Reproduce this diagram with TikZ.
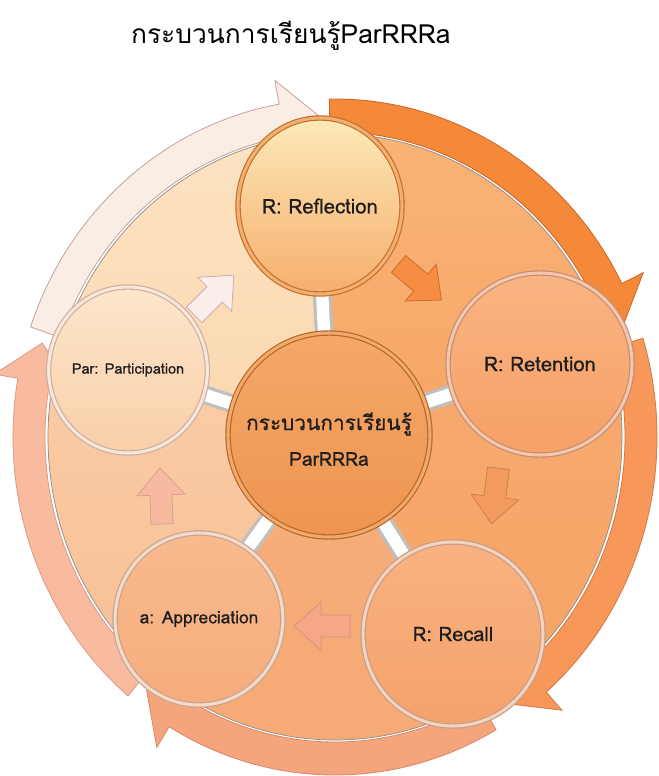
\documentclass[tikz,border=0pt]{standalone}
\usepackage{fontspec}
\newfontfamily\thaifont[Script=Thai]{Loma}
\newfontfamily\labfont[Script=Thai,FakeBold=0.6]{Loma}
\usetikzlibrary{shapes.geometric}
\definecolor{txt}{HTML}{1E1E1E}
\definecolor{s1a}{HTML}{FEF0DA}\definecolor{s1b}{HTML}{FBD8B0}
\definecolor{s2a}{HTML}{FAC48E}\definecolor{s2b}{HTML}{F7A666}
\definecolor{s3a}{HTML}{F8AC72}\definecolor{s3b}{HTML}{F59E5E}
\definecolor{s4a}{HTML}{F6AE7A}\definecolor{s4b}{HTML}{F5A46E}
\definecolor{s5a}{HTML}{FAD2AE}\definecolor{s5b}{HTML}{F6B282}
\definecolor{r1}{HTML}{FAEDE6}\definecolor{r1d}{HTML}{C4A49C}
\definecolor{r2}{HTML}{F5893A}\definecolor{r2d}{HTML}{CC6628}
\definecolor{r3}{HTML}{F7975A}\definecolor{r3d}{HTML}{D47A44}
\definecolor{r4}{HTML}{F5A57C}\definecolor{r4d}{HTML}{D8886A}
\definecolor{r5}{HTML}{F8BBA0}\definecolor{r5d}{HTML}{D89C88}
\definecolor{b1}{HTML}{FBEEEA}\definecolor{b1d}{HTML}{C9AFAF}
\definecolor{b2}{HTML}{F58D42}\definecolor{b2d}{HTML}{CE6B2C}
\definecolor{b3}{HTML}{F39A5E}\definecolor{b3d}{HTML}{D07E50}
\definecolor{b4}{HTML}{F5A788}\definecolor{b4d}{HTML}{D8927A}
\definecolor{b5}{HTML}{F7B9A0}\definecolor{b5d}{HTML}{D8A090}
% circles
\definecolor{c1a}{HTML}{FDEAB8}\definecolor{c1b}{HTML}{F6AE6E}\definecolor{c1d}{HTML}{C2702F}\definecolor{c1m}{HTML}{F2B070}
\definecolor{c2a}{HTML}{F9B482}\definecolor{c2b}{HTML}{F7A066}\definecolor{c2d}{HTML}{C48C74}\definecolor{c2m}{HTML}{F4C6AA}
\definecolor{c3a}{HTML}{F8B280}\definecolor{c3b}{HTML}{F5A26C}\definecolor{c3d}{HTML}{C49C8C}\definecolor{c3m}{HTML}{F5D2BC}
\definecolor{c4a}{HTML}{F8BA8E}\definecolor{c4b}{HTML}{F6AC7C}\definecolor{c4d}{HTML}{C4A494}\definecolor{c4m}{HTML}{F6DAC6}
\definecolor{c5a}{HTML}{FCE6CC}\definecolor{c5b}{HTML}{F9CFA8}\definecolor{c5d}{HTML}{C8B0A4}\definecolor{c5m}{HTML}{F8E6D8}
\definecolor{c6a}{HTML}{F5A868}\definecolor{c6b}{HTML}{EE9450}\definecolor{c6d}{HTML}{B5662C}\definecolor{c6m}{HTML}{F0AA6A}
\newcommand\ringarrow[5]{%
  \pgfmathsetmacro\rtA{-1*(#3)}%
  \pgfmathsetmacro\rtB{-1*(#4)}%
  \filldraw[fill=#1, draw=#2, line width=0.7pt, line join=miter]
    ({335+322*cos(#3)},{437-338*sin(#3)})
    arc[start angle=\rtA, end angle=\rtB, x radius=322, y radius=338]
    -- ({335+346*cos(#4)},{437-362*sin(#4)})
    -- ({335+306*cos(#5)},{437-321.5*sin(#5)})
    -- ({335+268*cos(#4)},{437-283*sin(#4)})
    -- ({335+290*cos(#4)},{437-305*sin(#4)})
    arc[start angle=\rtB, end angle=\rtA, x radius=290, y radius=305]
    -- cycle;}
\newcommand\sector[4]{%
  \shade[top color=#1, bottom color=#2]
    (329,435) -- ({329+700*cos(#3)},{435-700*sin(#3)})
    -- ({329+700*cos((#3+#4)/2)},{435-700*sin((#3+#4)/2)})
    -- ({329+700*cos(#4)},{435-700*sin(#4)}) -- cycle;}
\tikzset{
  barrow/.pic={\path[pic actions] (-28,-11) -- (1,-11) -- (1,-24) -- (28,0)
     -- (1,24) -- (1,11) -- (-28,11) -- cycle;},
  bubble/.style={ellipse, inner sep=0pt, text=txt, font=\labfont,
     line width=1pt, double distance=2.6pt, align=center},
  spokeout/.style={line width=16pt, draw=black!25},
  spokein/.style={line width=10.5pt, draw=white},
}
\begin{document}
\begin{tikzpicture}[x=0.03cm,y=-0.03cm]
\useasboundingbox (0,0) rectangle (658,776);
% title
\node[anchor=base west, text=black, font=\thaifont\fontsize{22.5}{26}\selectfont] (title) at (127,43) {กระบวนการเรียนรู้ParRRRa};
% background disk sectors
\begin{scope}
  \clip (335,437) ellipse[x radius=287, y radius=303];
  \sector{s1a}{s1b}{162.1}{92.7}
  \sector{s2a}{s2b}{92.7}{18.6}
  \sector{s3a}{s3b}{18.6}{-58.1}
  \sector{s4a}{s4b}{-58.1}{-125.7}
  \sector{s5a}{s5b}{234.3}{162.1}
\end{scope}
\draw[draw=black!45, line width=0.6pt] (335,437) ellipse[x radius=287, y radius=303];
% outer ring arrows
\ringarrow{r1}{r1d}{161}{100}{93}
\ringarrow{r5}{r5d}{230}{170}{163}
\ringarrow{r4}{r4d}{-60}{-121}{-128}
\ringarrow{r3}{r3d}{17}{-49}{-56}
\ringarrow{r2}{r2d}{91}{27}{20}
% block arrows
\pic[fill=b1, draw=b1d, line width=0.7pt, rotate=45] at (214,295) {barrow};
\pic[fill=b2, draw=b2d, line width=0.7pt, rotate=-40] at (420,282) {barrow};
\pic[fill=b3, draw=b3d, line width=0.7pt, rotate=-97] at (495,496) {barrow};
\pic[fill=b4, draw=b4d, line width=0.7pt, rotate=180] at (322,626) {barrow};
\pic[fill=b5, draw=b5d, line width=0.7pt, rotate=92] at (161,496) {barrow};
% spokes
\coordinate (pc) at (329,435);
\foreach \p in {(318,206),(540,364),(453,634),(197,619),(128,370)}{
  \draw[spokeout] (pc) -- \p;
  \draw[spokein] (pc) -- \p;
}
% circles
\node[bubble, minimum width=4.92cm, minimum height=5.28cm,
  top color=c1a, bottom color=c1b, draw=c1d, double=c1m,
  font=\labfont\fontsize{17.3}{20}\selectfont] (refl) at (320,206) {R: Reflection};
\node[bubble, minimum width=5.52cm, minimum height=5.46cm,
  top color=c2a, bottom color=c2b, draw=c2d, double=c2m,
  font=\labfont\fontsize{17.2}{20}\selectfont] (ret) at (540,364) {R: Retention};
\node[bubble, minimum width=5.4cm, minimum height=5.52cm,
  top color=c3a, bottom color=c3b, draw=c3d, double=c3m,
  font=\labfont\fontsize{17}{20}\selectfont] (rec) at (453,634) {R: Recall};
\node[bubble, minimum width=4.8cm, minimum height=5.16cm,
  top color=c4a, bottom color=c4b, draw=c4d, double=c4m,
  font=\labfont\fontsize{14.8}{18}\selectfont] (app) at (199,619) {a: Appreciation};
\node[bubble, minimum width=4.38cm, minimum height=4.98cm,
  top color=c5a, bottom color=c5b, draw=c5d, double=c5m,
  font=\labfont\fontsize{12.3}{15}\selectfont] (par) at (128,370) {Par: Participation};
\node[bubble, minimum width=6.06cm, minimum height=6.12cm,
  top color=c6a, bottom color=c6b, draw=c6d, double=c6m] (ctr) at (329,435) {};
\node[text=txt, font=\labfont\fontsize{17.8}{20}\selectfont] (ctrth) at (329,424) {กระบวนการเรียนรู้};
\node[text=txt, font=\labfont\fontsize{16.3}{20}\selectfont] (ctren) at (329,459) {ParRRRa};
\end{tikzpicture}
\end{document}
